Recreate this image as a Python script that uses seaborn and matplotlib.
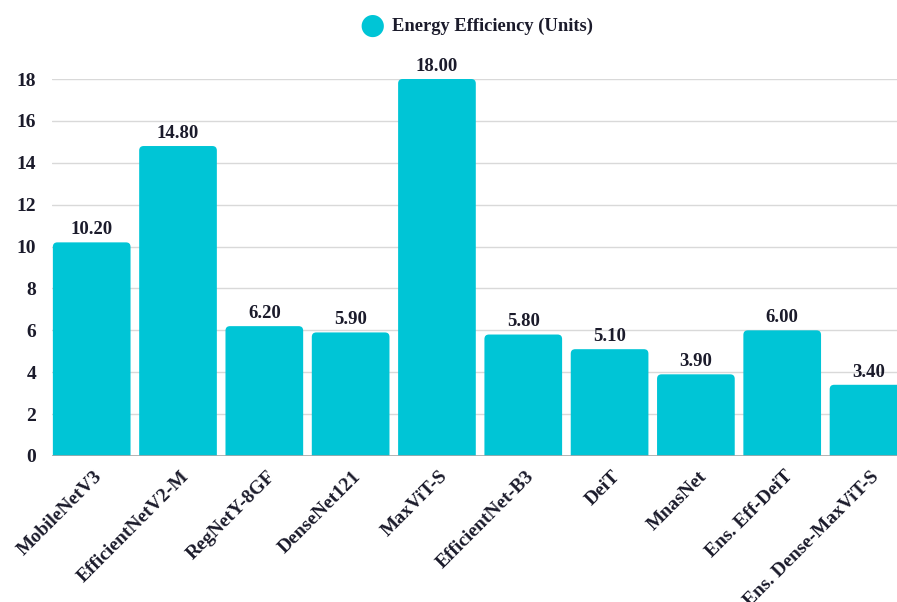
import matplotlib
matplotlib.use("Agg")
import matplotlib.pyplot as plt
import matplotlib.transforms as mtransforms
from matplotlib.patches import FancyBboxPatch
import seaborn as sns
import pandas as pd

models = ["MobileNetV3", "EfficientNetV2-M", "RegNetY-8GF", "DenseNet121", "MaxViT-S",
          "EfficientNet-B3", "DeiT", "MnasNet", "Ens. Eff-DeiT", "Ens. Dense-MaxViT-S"]
efficiency = [10.2, 14.8, 6.2, 5.9, 18.0, 5.8, 5.1, 3.9, 6.0, 3.4]
y_ticks = [0, 2, 4, 6, 8, 10, 12, 14, 16, 18]
series_name = "Energy Efficiency (Units)"

bar_color = "#00C5D6"
text_color = "#1b1b2b"

sns.set_theme(style="white")
plt.rcParams["font.family"] = ["Liberation Serif", "DejaVu Serif"]
plt.rcParams["font.weight"] = "bold"

df = pd.DataFrame({"model": models, "value": efficiency})

W, H = 897, 602
fig = plt.figure(figsize=(W / 100, H / 100), dpi=100)
left, right = 52, 897
top, bottom = 79, 456
ax = fig.add_axes([left / W, (H - bottom) / H, (right - left) / W, (bottom - top) / H])

sns.barplot(data=df, x="model", y="value", color=bar_color, width=0.9,
            saturation=1, ax=ax, zorder=3)

ax.set_xlim(-0.46, 9.33)
ax.set_ylim(0, 18)

# replace plain rectangles with top-rounded bars
ppx = (right - left) / (9.33 + 0.46)
ppy = (bottom - top) / 18
r = 4.5 / ppx
for p in list(ax.patches):
    x0, w, h = p.get_x(), p.get_width(), p.get_height()
    p.remove()
    fb = FancyBboxPatch((x0, -2), w, h + 2,
                        boxstyle=f"round,pad=0,rounding_size={r}",
                        mutation_aspect=ppx / ppy,
                        facecolor=bar_color, edgecolor="none", zorder=3)
    ax.add_patch(fb)
    fb.set_clip_on(True)
    fb.set_clip_box(ax.bbox)
    ax.text(x0 + w / 2, h + 0.2, f"{h:.2f}", ha="center", va="bottom",
            fontsize=13.5, fontweight="bold", color=text_color, zorder=4)

ax.set_yticks(y_ticks)
ax.set_yticklabels([str(t) for t in y_ticks], fontsize=14, fontweight="bold", color=text_color)
ax.yaxis.grid(True, color="#d9d9d9", linewidth=1, zorder=0)
ax.axhline(0, color="#a8a8a8", linewidth=1.2, zorder=4)
ax.tick_params(axis="y", length=0, pad=11.5)
ax.tick_params(axis="x", length=0, pad=2)
for s in ax.spines.values():
    s.set_visible(False)

ax.set_xticks(range(len(models)))
ax.set_xticklabels(models, rotation=45, ha="right", rotation_mode="anchor",
                   fontsize=14, fontweight="bold", color=text_color)
offset = mtransforms.ScaledTranslation(2 / 100, -9 / 100, fig.dpi_scale_trans)
for lbl in ax.get_xticklabels():
    lbl.set_transform(lbl.get_transform() + offset)
ax.set_xlabel("")
ax.set_ylabel("")

# legend
fig.text(372 / W, 1 - 26 / H, "\u25CF", fontsize=21, color=bar_color, ha="center", va="center",
         family="DejaVu Sans")
fig.text(392 / W, 1 - 26 / H, series_name, fontsize=13.3, fontweight="bold",
         color=text_color, ha="left", va="center")

fig.savefig("out.png", dpi=100, facecolor="white")
